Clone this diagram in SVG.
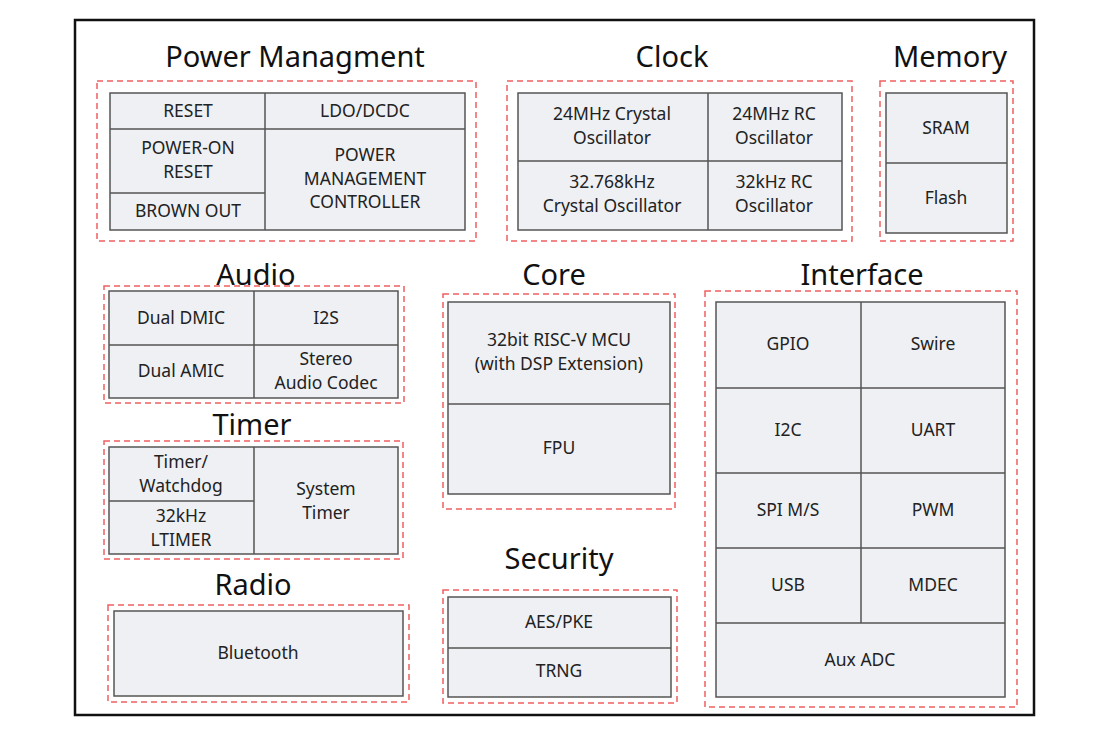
<svg xmlns="http://www.w3.org/2000/svg" width="1110" height="740" viewBox="0 0 1110 740">
<style>
.t{font-family:"Noto Sans","Liberation Sans",sans-serif;font-size:29px;fill:#111;text-anchor:middle}
.l{font-family:"Noto Sans","Liberation Sans",sans-serif;font-size:17.5px;fill:#222;text-anchor:middle}
.d{fill:none;stroke:#f06060;stroke-width:1.5;stroke-dasharray:6 4}
.b{fill:#eef0f4;stroke:#555;stroke-width:1.5}
.s{stroke:#555;stroke-width:1.5}
</style>
<rect width="1110" height="740" fill="#fff"/>
<rect x="75" y="20" width="959" height="695" fill="none" stroke="#111" stroke-width="2.5"/>
<g id="power">
<text class="t" x="295" y="67">Power Managment</text>
<rect class="d" x="97" y="81" width="379" height="160"/>
<rect class="b" x="110" y="93" width="355" height="137"/>
<line class="s" x1="265" y1="93" x2="265" y2="230"/><line class="s" x1="110" y1="129" x2="465" y2="129"/><line class="s" x1="110" y1="193" x2="265" y2="193"/>
<text class="l" x="188" y="117">RESET</text><text class="l" x="365" y="117">LDO/DCDC</text>
<text class="l" x="188" y="154">POWER-ON</text><text class="l" x="188" y="178">RESET</text>
<text class="l" x="188" y="217">BROWN OUT</text>
<text class="l" x="365" y="161">POWER</text><text class="l" x="365" y="185">MANAGEMENT</text><text class="l" x="365" y="208">CONTROLLER</text>
</g>
<g id="clock">
<text class="t" x="672" y="67">Clock</text>
<rect class="d" x="507" y="81" width="345" height="160"/>
<rect class="b" x="518" y="93" width="324" height="137"/>
<line class="s" x1="708" y1="93" x2="708" y2="230"/><line class="s" x1="518" y1="161" x2="842" y2="161"/>
<text class="l" x="612" y="120">24MHz Crystal</text><text class="l" x="612" y="144">Oscillator</text>
<text class="l" x="774" y="120">24MHz RC</text><text class="l" x="774" y="144">Oscillator</text>
<text class="l" x="612" y="188">32.768kHz</text><text class="l" x="612" y="212">Crystal Oscillator</text>
<text class="l" x="774" y="188">32kHz RC</text><text class="l" x="774" y="212">Oscillator</text>
</g>
<g id="memory">
<text class="t" x="950" y="67">Memory</text>
<rect class="d" x="880" y="81" width="133" height="160"/>
<rect class="b" x="886" y="93" width="121" height="140"/>
<line class="s" x1="886" y1="163" x2="1007" y2="163"/>
<text class="l" x="946" y="134">SRAM</text><text class="l" x="946" y="204">Flash</text>
</g>
<g id="audio">
<text class="t" x="256" y="285">Audio</text>
<rect class="d" x="104" y="286" width="300" height="117"/>
<rect class="b" x="109" y="291" width="289" height="107"/>
<line class="s" x1="254" y1="291" x2="254" y2="398"/><line class="s" x1="109" y1="345" x2="398" y2="345"/>
<text class="l" x="181" y="324">Dual DMIC</text><text class="l" x="326" y="324">I2S</text>
<text class="l" x="181" y="377">Dual AMIC</text><text class="l" x="326" y="365">Stereo</text><text class="l" x="326" y="389">Audio Codec</text>
</g>
<g id="timer">
<text class="t" x="252" y="435">Timer</text>
<rect class="d" x="104" y="441" width="299" height="118"/>
<rect class="b" x="109" y="447" width="289" height="107"/>
<line class="s" x1="254" y1="447" x2="254" y2="554"/><line class="s" x1="109" y1="501" x2="254" y2="501"/>
<text class="l" x="181" y="468">Timer/</text><text class="l" x="181" y="492">Watchdog</text>
<text class="l" x="181" y="522">32kHz</text><text class="l" x="181" y="546">LTIMER</text>
<text class="l" x="326" y="495">System</text><text class="l" x="326" y="519">Timer</text>
</g>
<g id="radio">
<text class="t" x="253" y="595">Radio</text>
<rect class="d" x="108" y="605" width="301" height="97"/>
<rect class="b" x="114" y="611" width="289" height="85"/>
<text class="l" x="258" y="659">Bluetooth</text>
</g>
<g id="core">
<text class="t" x="554" y="285">Core</text>
<rect class="d" x="443" y="294" width="232" height="215"/>
<rect class="b" x="448" y="302" width="222" height="192"/>
<line class="s" x1="448" y1="404" x2="670" y2="404"/>
<text class="l" x="559" y="346">32bit RISC-V MCU</text><text class="l" x="559" y="370">(with DSP Extension)</text>
<text class="l" x="559" y="454">FPU</text>
</g>
<g id="security">
<text class="t" x="559" y="569">Security</text>
<rect class="d" x="443" y="590" width="234" height="113"/>
<rect class="b" x="448" y="597" width="223" height="100"/>
<line class="s" x1="448" y1="648" x2="671" y2="648"/>
<text class="l" x="559" y="628">AES/PKE</text><text class="l" x="559" y="677">TRNG</text>
</g>
<g id="interface">
<text class="t" x="862" y="285">Interface</text>
<rect class="d" x="705" y="291" width="312" height="416"/>
<rect class="b" x="716" y="302" width="289" height="395"/>
<line class="s" x1="861" y1="302" x2="861" y2="623"/>
<line class="s" x1="716" y1="388" x2="1005" y2="388"/><line class="s" x1="716" y1="473" x2="1005" y2="473"/>
<line class="s" x1="716" y1="548" x2="1005" y2="548"/><line class="s" x1="716" y1="623" x2="1005" y2="623"/>
<text class="l" x="788" y="350">GPIO</text><text class="l" x="933" y="350">Swire</text>
<text class="l" x="788" y="436">I2C</text><text class="l" x="933" y="436">UART</text>
<text class="l" x="788" y="516">SPI M/S</text><text class="l" x="933" y="516">PWM</text>
<text class="l" x="788" y="591">USB</text><text class="l" x="933" y="591">MDEC</text>
<text class="l" x="860" y="666">Aux ADC</text>
</g>
<g id="connectors"/>
</svg>
